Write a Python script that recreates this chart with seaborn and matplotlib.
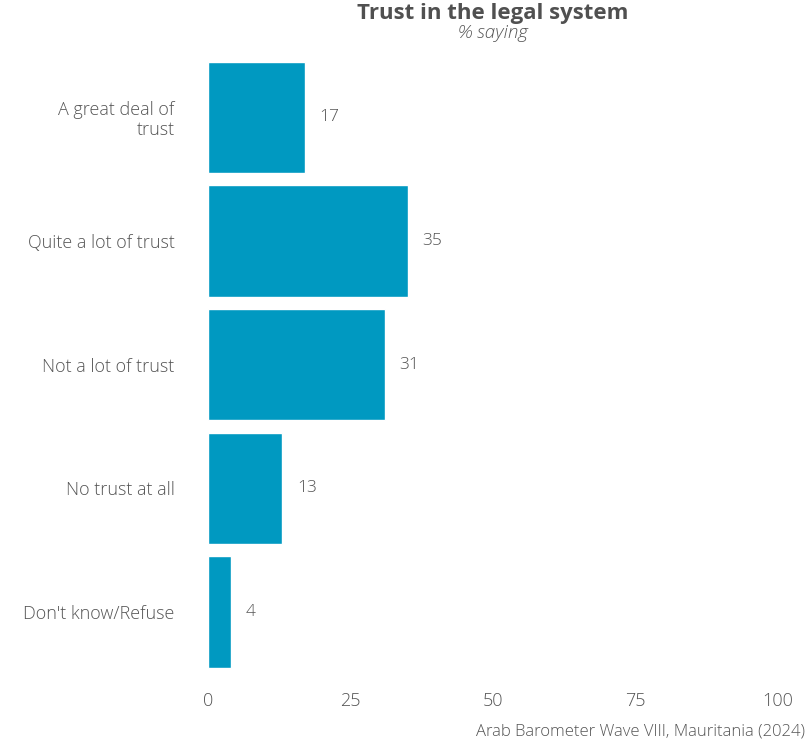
import matplotlib
matplotlib.use("Agg")
import matplotlib.pyplot as plt
import seaborn as sns
import pandas as pd

categories = ["A great deal of\ntrust", "Quite a lot of trust", "Not a lot of trust",
              "No trust at all", "Don't know/Refuse"]
values = [17, 35, 31, 13, 4]
x_ticks = [0, 25, 50, 75, 100]

title = "Trust in the legal system"
subtitle = "% saying"
source = "Arab Barometer Wave VIII, Mauritania (2024)"

bar_color = "#0099C1"
text_color = "#555555"

sns.set_theme(style="white")
plt.rcParams["font.family"] = ["Open Sans", "DejaVu Sans"]

df = pd.DataFrame({"category": categories, "value": values})

fig = plt.figure(figsize=(8.06, 7.42), dpi=100)
W, H = 806, 742
ax = fig.add_axes([208 / W, 1 - 674 / H, (778 - 208) / W, (674 - 55.5) / H])

sns.barplot(data=df, x="value", y="category", orient="h", color=bar_color,
            saturation=1, width=0.9, ax=ax)

ax.set_xlim(0, 100)
ax.set_ylim(4.5, -0.5)
ax.set_xticks(x_ticks)
ax.set_xticklabels([str(t) for t in x_ticks], fontsize=13, color=text_color,
                   fontweight="light")
ax.tick_params(axis="x", pad=13, length=0)
ax.tick_params(axis="y", pad=24, length=0)
for lbl in ax.get_yticklabels():
    lbl.set_fontsize(13)
    lbl.set_color(text_color)
    lbl.set_fontweight("light")
    lbl.set_multialignment("right")
    lbl.set_linespacing(1.1)
ax.set_xlabel("")
ax.set_ylabel("")
for s in ax.spines.values():
    s.set_visible(False)

for i, v in enumerate(values):
    ax.text(v + 2.6, i, f"{v}", va="center", ha="left", fontsize=12.5,
            color=text_color, fontweight="light")

fig.text(493 / W, 1 - 14 / H, title, ha="center", va="center", fontsize=16,
         fontweight="bold", color="#505050")
fig.text(493 / W, 1 - 33 / H, subtitle, ha="center", va="center", fontsize=13.5,
         style="italic", color=text_color, fontweight="light")
fig.text(805 / W, 1 - 732 / H, source, ha="right", va="center", fontsize=12,
         color=text_color, fontweight="light")

fig.savefig("out.png", dpi=100, facecolor="white")
